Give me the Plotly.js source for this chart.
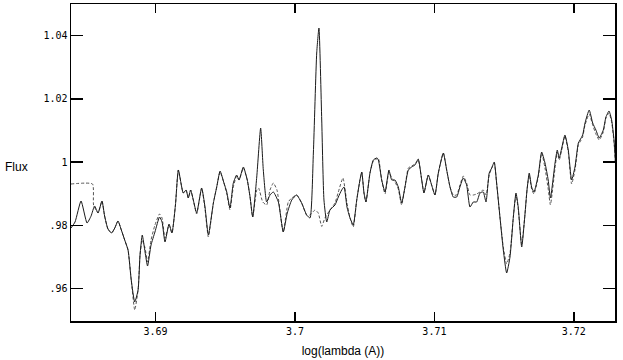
<!DOCTYPE html>
<html>
<head>
<meta charset="utf-8">
<script src="https://cdn.plot.ly/plotly-3.0.1.min.js"></script>
<style>html,body{margin:0;padding:0;background:#fff;}#chart{width:623px;height:360px;}</style>
</head>
<body>
<div id="chart"></div>
<script>
// Solid spectrum (log wavelength, flux)
const solidX = [3.68394,3.68423,3.68466,3.68509,3.68538,3.68563,3.68588,3.68616,3.68635,3.68659,3.68685,3.68708,3.68731,3.68755,3.68779,3.68803,3.68826,3.68851,3.68875,3.68889,3.68905,3.68925,3.68943,3.68968,3.68996,3.69029,3.69047,3.69068,3.69097,3.69118,3.69143,3.69164,3.69199,3.69219,3.69235,3.69252,3.69271,3.69295,3.69331,3.69355,3.69379,3.69415,3.69439,3.69463,3.69491,3.69511,3.69534,3.69558,3.69582,3.69599,3.69630,3.69658,3.69678,3.69697,3.69726,3.69754,3.69773,3.69797,3.69821,3.69845,3.69881,3.69916,3.69945,3.69977,3.70012,3.70048,3.70084,3.70108,3.70132,3.70156,3.70172,3.70192,3.70208,3.70228,3.70251,3.70287,3.70311,3.70335,3.70352,3.70373,3.70395,3.70418,3.70443,3.70466,3.70479,3.70495,3.70509,3.70538,3.70562,3.70586,3.70598,3.70622,3.70646,3.70674,3.70694,3.70717,3.70741,3.70765,3.70789,3.70813,3.70837,3.70861,3.70884,3.70909,3.70925,3.70956,3.70980,3.71004,3.71028,3.71064,3.71088,3.71112,3.71135,3.71160,3.71183,3.71207,3.71231,3.71255,3.71279,3.71303,3.71327,3.71350,3.71370,3.71393,3.71411,3.71429,3.71446,3.71470,3.71494,3.71518,3.71542,3.71566,3.71585,3.71601,3.71626,3.71649,3.71664,3.71680,3.71697,3.71714,3.71745,3.71769,3.71793,3.71816,3.71832,3.71865,3.71881,3.71895,3.71913,3.71936,3.71960,3.71984,3.72008,3.72032,3.72044,3.72063,3.72080,3.72110,3.72135,3.72158,3.72182,3.72211,3.72230,3.72252,3.72271,3.72288,3.72298];
const solidY = [0.97919,0.98109,0.98773,0.98077,0.98299,0.98615,0.98394,0.98773,0.98299,0.97888,0.97761,0.97919,0.98141,0.97856,0.97540,0.97224,0.96275,0.95579,0.95958,0.97065,0.97698,0.97160,0.96717,0.97382,0.97793,0.98267,0.98109,0.97477,0.98046,0.97761,0.98647,0.99754,0.99026,0.99121,0.98868,0.99121,0.98805,0.98394,0.99184,0.98583,0.97698,0.98710,0.99216,0.99722,0.99342,0.99058,0.98552,0.99342,0.99595,0.99437,0.99849,0.99437,0.98900,0.98267,0.99532,1.01082,0.99754,0.98742,0.98963,0.99058,0.98742,0.97793,0.98394,0.98805,0.98963,0.98710,0.98330,0.98236,1.00291,1.03454,1.04244,1.01335,0.98805,0.98109,0.98489,0.98647,0.98900,0.99121,0.99216,0.98583,0.98236,0.98014,0.98805,0.99437,0.99690,0.99026,0.98742,0.99659,1.00070,1.00133,1.00070,0.99437,0.99058,0.99754,0.99437,0.99437,0.99216,0.98710,0.99216,0.99754,0.99849,0.99912,1.00102,0.99437,0.99026,0.99595,0.99279,0.98963,0.99659,1.00291,0.99754,0.99216,0.98900,0.98900,0.99216,0.99501,0.99279,0.98583,0.98742,0.98742,0.99026,0.99058,0.98742,0.99659,0.99817,1.00007,0.99342,0.98267,0.97224,0.96496,0.97002,0.98267,0.99026,0.98583,0.97318,0.98330,0.99121,0.99659,0.99216,0.99058,0.99595,1.00323,0.99975,0.99437,0.98868,0.99975,1.00386,1.00133,1.00449,1.00861,1.00386,0.99437,0.99849,1.00608,1.00702,1.00861,1.01240,1.01651,1.01240,1.01019,1.00766,1.01019,1.01430,1.01620,1.01335,1.00702,1.00007];

// Dashed spectrum (log wavelength, flux)
const dashX = [3.68394,3.68548,3.68556,3.68588,3.68616,3.68635,3.68659,3.68685,3.68708,3.68731,3.68755,3.68779,3.68803,3.68826,3.68851,3.68875,3.68889,3.68905,3.68925,3.68943,3.68968,3.68996,3.69029,3.69047,3.69068,3.69097,3.69118,3.69143,3.69164,3.69199,3.69219,3.69235,3.69252,3.69271,3.69295,3.69331,3.69355,3.69379,3.69415,3.69439,3.69463,3.69491,3.69511,3.69534,3.69558,3.69582,3.69599,3.69630,3.69658,3.69678,3.69697,3.69726,3.69739,3.69769,3.69797,3.69821,3.69845,3.69871,3.69916,3.69952,3.69977,3.70012,3.70048,3.70084,3.70108,3.70144,3.70167,3.70192,3.70215,3.70251,3.70287,3.70311,3.70344,3.70373,3.70395,3.70418,3.70443,3.70466,3.70479,3.70495,3.70509,3.70538,3.70562,3.70586,3.70598,3.70622,3.70646,3.70674,3.70694,3.70717,3.70741,3.70765,3.70789,3.70813,3.70837,3.70861,3.70884,3.70909,3.70925,3.70956,3.70980,3.71004,3.71028,3.71064,3.71088,3.71112,3.71135,3.71160,3.71183,3.71207,3.71231,3.71255,3.71279,3.71303,3.71327,3.71350,3.71370,3.71393,3.71411,3.71429,3.71446,3.71470,3.71494,3.71518,3.71542,3.71566,3.71585,3.71601,3.71626,3.71649,3.71664,3.71680,3.71697,3.71714,3.71745,3.71769,3.71793,3.71816,3.71832,3.71865,3.71881,3.71895,3.71913,3.71936,3.71960,3.71984,3.72008,3.72032,3.72044,3.72063,3.72080,3.72110,3.72135,3.72158,3.72182,3.72211,3.72230,3.72252,3.72271,3.72288,3.72298];
const dashY = [0.99311,0.99311,0.98647,0.98394,0.98773,0.98299,0.97888,0.97761,0.97919,0.98141,0.97856,0.97540,0.97224,0.96275,0.95326,0.95958,0.97065,0.97540,0.97287,0.96844,0.97540,0.98014,0.98362,0.98236,0.97603,0.98014,0.97761,0.98647,0.99754,0.99026,0.99121,0.98868,0.99121,0.98805,0.98362,0.99184,0.98520,0.97635,0.98710,0.99216,0.99690,0.99342,0.98995,0.98489,0.99216,0.99564,0.99437,0.99817,0.99437,0.98900,0.98267,0.99121,0.99184,0.98742,0.98647,0.99121,0.99342,0.99121,0.97793,0.98742,0.98868,0.98963,0.98710,0.98330,0.98330,0.98489,0.98394,0.97970,0.98236,0.98489,0.98710,0.99058,0.99501,0.98710,0.98236,0.97951,0.98805,0.99437,0.99690,0.99026,0.98742,0.99659,1.00039,1.00102,1.00133,0.99437,0.98995,0.99690,0.99501,0.99374,0.99153,0.98647,0.99216,0.99817,0.99880,0.99943,1.00070,0.99437,0.99026,0.99595,0.99279,0.98963,0.99659,1.00291,0.99754,0.99216,0.98963,0.98963,0.99279,0.99564,0.99342,0.98963,0.98963,0.98995,0.99058,0.99121,0.98963,0.99595,0.99817,0.99975,0.99342,0.98267,0.97319,0.96781,0.97129,0.98267,0.98963,0.98520,0.97382,0.98330,0.99121,0.99595,0.99153,0.98995,0.99532,1.00291,0.99817,0.99153,0.98650,0.99817,1.00323,1.00070,1.00386,1.00830,1.00323,0.99311,0.99754,1.00545,1.00639,1.00798,1.01177,1.01525,1.01177,1.00892,1.00703,1.00956,1.01399,1.01556,1.01272,1.00639,0.99975];

// Tick labels
const xTickVals = [3.69, 3.70, 3.71, 3.72];
const xTickText = ["3.69", "3.7", "3.71", "3.72"];
const yTickVals = [0.96, 0.98, 1.00, 1.02, 1.04];
const yTickText = [".96", ".98", "1", "1.02", "1.04"];

const traces = [
  {x: dashX, y: dashY, type: 'scatter', mode: 'lines', name: 'model',
   line: {color: '#555', width: 1, dash: '3px,2px', shape: 'spline', smoothing: 0.5}},
  {x: solidX, y: solidY, type: 'scatter', mode: 'lines', name: 'data',
   line: {color: '#1a1a1a', width: 1, shape: 'spline', smoothing: 0.5}}
];

const tickFont = {family: 'DejaVu Sans Mono', size: 10, color: '#000'};
const layout = {
  width: 623, height: 360,
  margin: {l: 71, r: 8, t: 4, b: 39},
  paper_bgcolor: '#fff', plot_bgcolor: '#fff',
  showlegend: false,
  xaxis: {
    range: [3.68394, 3.72295], tickvals: xTickVals, ticktext: xTickText,
    ticks: 'inside', ticklen: 9, tickwidth: 1.5, tickcolor: '#000',
    showline: true, linecolor: '#000', linewidth: 1.5, mirror: 'ticks',
    showgrid: false, zeroline: false, tickfont: tickFont,
    title: {text: 'log(lambda (A))', font: {family: 'Liberation Sans', size: 12, color: '#000'}, standoff: 11}
  },
  yaxis: {
    range: [0.94978, 1.05004], tickvals: yTickVals, ticktext: yTickText,
    ticks: 'inside', ticklen: 12, tickwidth: 1.5, tickcolor: '#000',
    showline: true, linecolor: '#000', linewidth: 1.5, mirror: 'ticks',
    showgrid: false, zeroline: false, tickfont: tickFont
  },
  annotations: [{
    text: 'Flux', xref: 'paper', yref: 'paper', x: -0.1, y: 0.486,
    xanchor: 'center', yanchor: 'middle', showarrow: false,
    font: {family: 'Liberation Sans', size: 12, color: '#000'}
  }]
};

Plotly.newPlot('chart', traces, layout, {staticPlot: true, displayModeBar: false});
</script>
</body>
</html>
